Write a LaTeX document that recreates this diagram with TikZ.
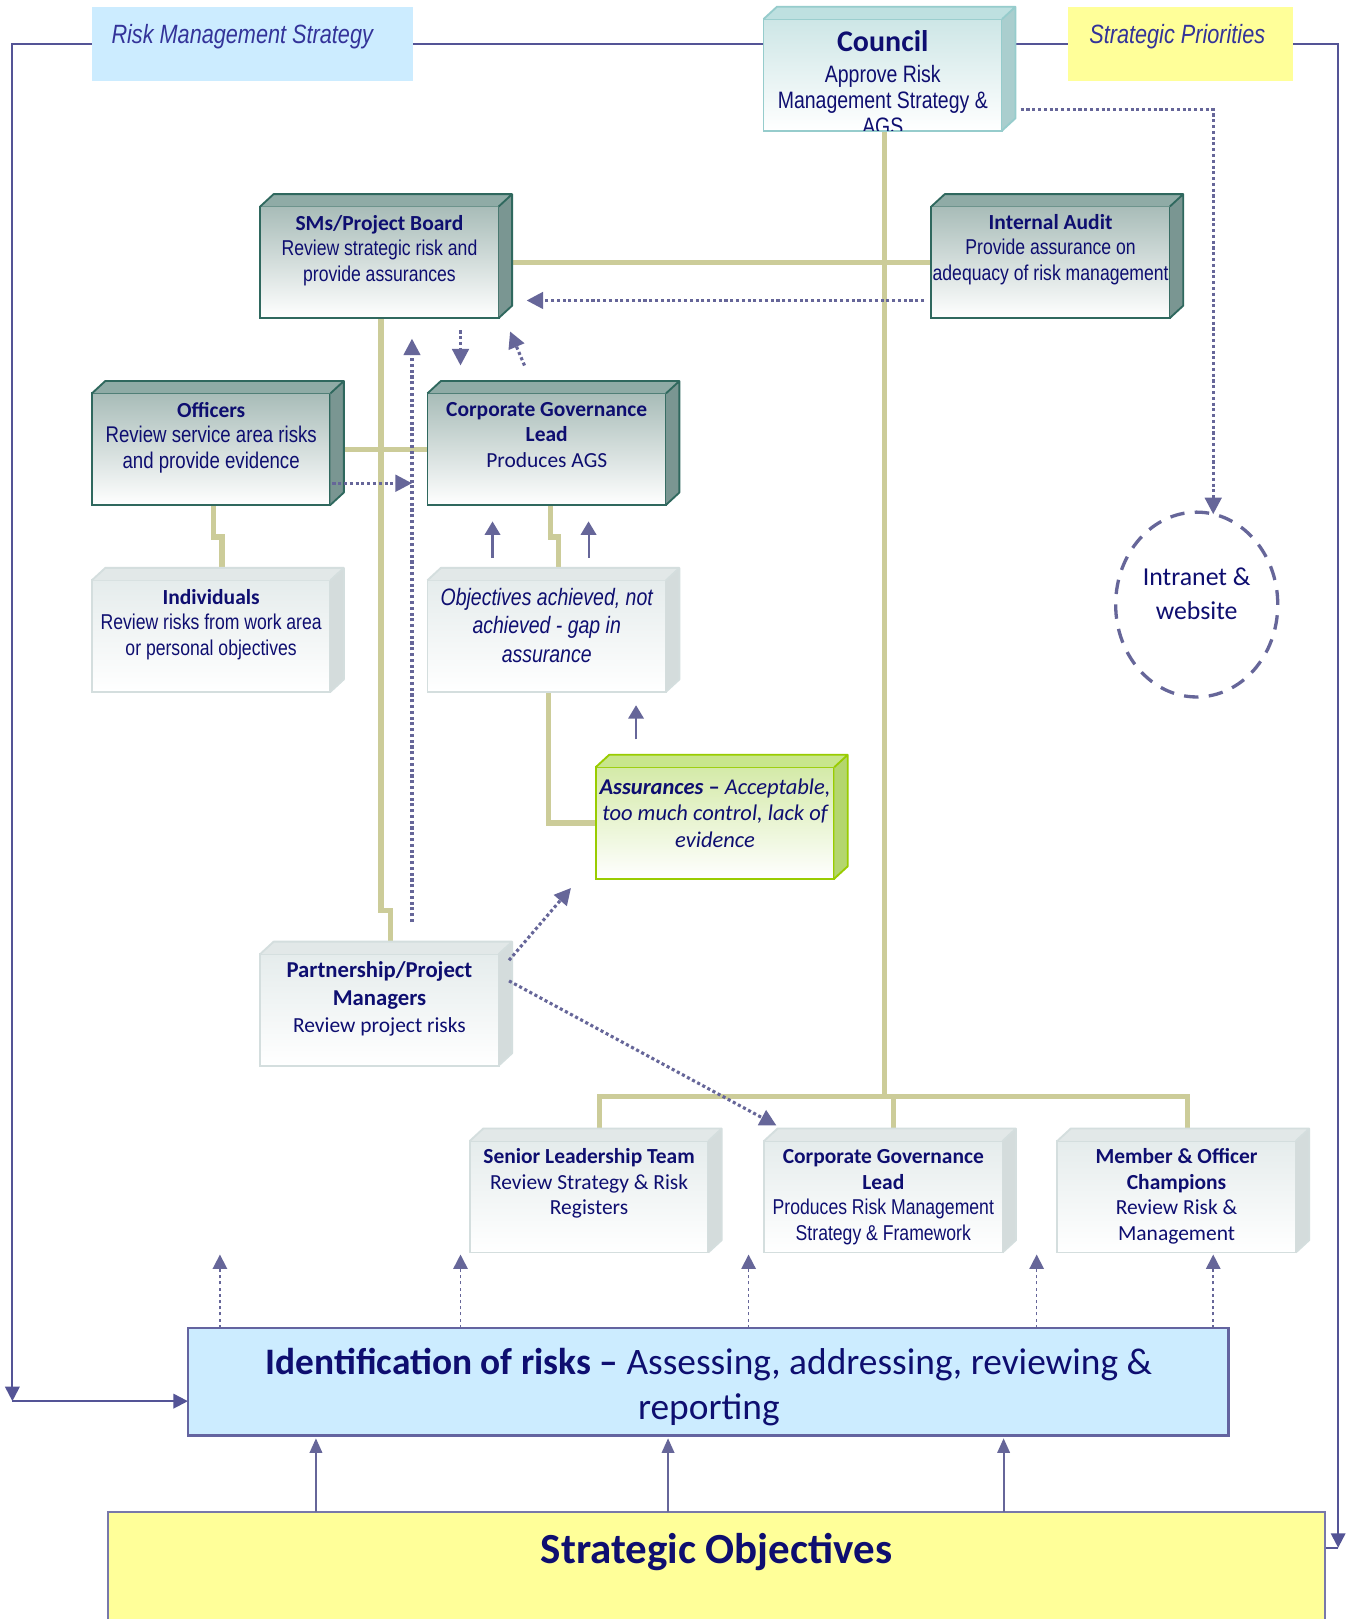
\documentclass[tikz,border=0pt]{standalone}
\usepackage{fontspec}
\setmainfont{Carlito}
\newfontfamily\narrowfont[FakeStretch=0.82]{Liberation Sans}
\usetikzlibrary{arrows.meta,calc,shapes.geometric}
\pgfdeclarelayer{bg}
\pgfsetlayers{bg,main}
\definecolor{navy}{RGB}{14,14,112}
\definecolor{lblue}{RGB}{51,51,153}
\definecolor{boxblue}{RGB}{204,236,255}
\definecolor{boxyellow}{RGB}{255,255,153}
\definecolor{framec}{RGB}{84,84,150}
\definecolor{arrowc}{RGB}{102,102,153}
\definecolor{khaki}{RGB}{204,204,153}
\definecolor{idrE}{RGB}{100,100,160}
\definecolor{soE}{RGB}{120,120,170}
\definecolor{dkF}{RGB}{168,188,184}
\definecolor{dkT}{RGB}{143,171,166}
\definecolor{dkS}{RGB}{122,150,146}
\definecolor{dkE}{RGB}{47,104,94}
\definecolor{ltF}{RGB}{229,236,236}
\definecolor{ltT}{RGB}{226,232,232}
\definecolor{ltS}{RGB}{212,220,220}
\definecolor{ltE}{RGB}{212,222,222}
\definecolor{tlF}{RGB}{205,230,230}
\definecolor{tlT}{RGB}{190,224,224}
\definecolor{tlS}{RGB}{170,206,206}
\definecolor{tlE}{RGB}{150,204,204}
\definecolor{grF}{RGB}{212,234,168}
\definecolor{grT}{RGB}{200,230,140}
\definecolor{grS}{RGB}{180,214,110}
\definecolor{grE}{RGB}{153,204,0}
\newcommand\mycube[3]{%
 \node[#1front] (#2) at (#3) {};
 \fill[#1top] (#2.north west) -- ++(13,-12) -- ($(#2.north east)+(13,-12)$) -- (#2.north east) -- cycle;
 \fill[#1side] (#2.north east) -- ++(13,-12) -- ($(#2.south east)+(13,-12)$) -- (#2.south east) -- cycle;
 \draw[#1edge] (#2.north west) -- ++(13,-12) -- ($(#2.north east)+(13,-12)$) -- ($(#2.south east)+(13,-12)$) -- (#2.south east) (#2.north east) -- ++(13,-12);
}
\newcommand\btext[4][12.4]{%
 \node[btxt] (#2T) at ($(#2.north)+(0,#3)$) {\parbox[t]{150pt}{\centering\fontsize{10.4}{#1}\selectfont #4}};}
\begin{document}
\begin{tikzpicture}[x=0.5pt,y=-0.5pt,
 every node/.style={inner sep=0pt,outer sep=0pt},
 faceF/.style={minimum width=115.5pt,minimum height=54pt,line width=0.9pt},
 dkfront/.style={faceF,draw=dkE,top color=dkF,bottom color=white},
 dktop/.style={fill=dkT}, dkside/.style={fill=dkS},
 dkedge/.style={draw=dkE,line width=0.9pt,line join=round},
 ltfront/.style={faceF,draw=ltE,top color=ltF,bottom color=white},
 lttop/.style={fill=ltT}, ltside/.style={fill=ltS},
 ltedge/.style={draw=ltE,line width=0.9pt,line join=round},
 tlfront/.style={faceF,draw=tlE,top color=tlF,bottom color=white},
 tltop/.style={fill=tlT}, tlside/.style={fill=tlS},
 tledge/.style={draw=tlE,line width=0.9pt,line join=round},
 grfront/.style={faceF,draw=grE,top color=grF,bottom color=white},
 grtop/.style={fill=grT}, grside/.style={fill=grS},
 gredge/.style={draw=grE,line width=0.9pt,line join=round},
 tie/.style={draw=khaki,line width=2.5pt},
 frame/.style={draw=framec,line width=1pt},
 frarrow/.style={frame,-{Triangle[length=7pt,width=7pt]}},
 dots/.style={draw=arrowc,line width=1.5pt,dash pattern=on 1.5pt off 1.3pt,-{Triangle[length=8pt,width=8pt]}},
 upar/.style={draw=arrowc,line width=1pt,-{Triangle[length=6.5pt,width=7.5pt]}},
 ups/.style={draw=arrowc,line width=0.8pt,dash pattern=on 1.5pt off 1.5pt,-{Triangle[length=7pt,width=7pt]}},
 bigup/.style={draw=arrowc,line width=1pt,-{Triangle[length=7pt,width=6pt]}},
 btxt/.style={anchor=base,text=navy},
 toplbl/.style={anchor=base west,text=lblue,font=\fontsize{12.8}{14}\selectfont\narrowfont\itshape},
]
\useasboundingbox (0,0) rectangle (1304,1568);
\begin{pgfonlayer}{bg}
\fill[white] (0,0) rectangle (1304,1568);
\end{pgfonlayer}

% flat boxes
\node[fill=boxblue,minimum width=155.5pt,minimum height=35.5pt] (rms) at (244.5,42.5) {};
\node[toplbl] (rmsT) at ($(rms.north west)+(19,35)$) {Risk Management Strategy};
\node[fill=boxyellow,minimum width=109pt,minimum height=35.5pt] (sp) at (1143,42.5) {};
\node[toplbl] (spT) at ($(sp.north west)+(21,35)$) {Strategic Priorities};
\node[fill=boxblue,draw=idrE,line width=1.3pt,minimum width=504pt,minimum height=52pt] (idr) at (686,1338) {};
\node[btxt] (idrT) at ($(idr.north)+(0.5,45.5)$) {\parbox[t]{560pt}{\centering\fontsize{18.1}{21.5}\selectfont\textbf{Identification of risks –} Assessing, addressing, reviewing \&\\reporting}};
\node[fill=boxyellow,draw=soE,line width=1pt,minimum width=589pt,minimum height=63pt] (so) at (694,1527) {};
\node[btxt] (soT) at ($(so.north)+(0,50)$) {\fontsize{20.8}{24}\selectfont\bfseries Strategic Objectives};
\node[ellipse,draw=arrowc,line width=1.6pt,dash pattern=on 7pt off 5pt,minimum width=78.5pt,minimum height=89.5pt] (intr) at (1159,585.5) {};
\node[btxt] (intrT) at ($(intr.center)+(0,-18)$) {\parbox[t]{80pt}{\centering\fontsize{12.5}{16}\selectfont Intranet \&\\website}};

% 3D boxes
\mycube{tl}{council}{855,72.5}
\begin{scope}
\clip (council.north west) rectangle (council.south east);
\node[btxt] (councilT) at ($(council.north)+(0,31)$) {\parbox[t]{150pt}{\centering{\fontsize{14.5}{16}\selectfont\bfseries Council\par}\vspace{2.5pt}\fontsize{11.5}{12.6}\selectfont\narrowfont Approve Risk\\Management Strategy \&\\AGS}};
\end{scope}
\mycube{dk}{sms}{367.5,254}
\btext{sms}{23}{\textbf{SMs/Project Board}\\\narrowfont Review strategic risk and\\provide assurances}
\mycube{dk}{ia}{1017.5,254}
\btext{ia}{22}{\textbf{Internal Audit}\\\narrowfont Provide assurance on\\adequacy of risk management}
\mycube{dk}{off}{204.5,435}
\btext[12.5]{off}{23}{\textbf{Officers}\\\fontsize{11}{12.5}\selectfont\narrowfont Review service area risks\\and provide evidence}
\mycube{dk}{cgl1}{529.5,435}
\btext{cgl1}{22}{\textbf{Corporate Governance}\\\textbf{Lead}\\Produces AGS}
\mycube{lt}{ind}{204.5,616}
\btext{ind}{23}{\textbf{Individuals}\\\narrowfont Review risks from work area\\or personal objectives}
\mycube{lt}{obj}{529.5,616}
\btext[13.8]{obj}{24}{\fontsize{11.5}{13.8}\selectfont\narrowfont\itshape Objectives achieved, not\\achieved - gap in\\assurance}
\mycube{gr}{asr}{692.5,797}
\btext[13]{asr}{26}{\fontsize{10.9}{13}\selectfont\itshape\textbf{Assurances} \textbf{\upshape –} Acceptable,\\too much control, lack of\\evidence}
\mycube{lt}{ppm}{367.5,978}
\btext[13.2]{ppm}{23}{\fontsize{11}{13.2}\selectfont\textbf{Partnership/Project}\\\textbf{Managers}\\\fontsize{10.4}{13.2}\selectfont Review project risks}
\mycube{lt}{slt}{570.5,1159}
\btext{slt}{22}{\textbf{Senior Leadership Team}\\Review Strategy \& Risk\\Registers}
\mycube{lt}{cgl2}{855.5,1159}
\btext{cgl2}{22}{\textbf{Corporate Governance}\\\textbf{Lead}\\\narrowfont Produces Risk Management\\Strategy \& Framework}
\mycube{lt}{moc}{1139.5,1159}
\btext{moc}{22}{\textbf{Member \& Officer}\\\textbf{Champions}\\Review Risk \&\\Management}

% background connectors
\begin{pgfonlayer}{bg}
\coordinate (fl) at (12,1357);
\coordinate (fr) at (1296,1499);
\draw[frarrow] (rms.west) -| (fl);
\draw[frarrow] (fl) -- (fl -| idr.west);
\draw[frarrow] (sp.east) -| (fr);
\draw[frame] (fr) -- (fr -| so.east);
\draw[frame] (rms.east) -- (rms.east -| council.west);
\draw[frame] (sp.west) -- (sp.west -| council.east);
\draw[tie] ($(council.south)+(2,0)$) -- ++(0,935);
\draw[tie] ($(slt.north)+(10.5,-12)$) |- ($(moc.north)+(10.5,-43)$) -- ($(moc.north)+(10.5,-12)$);
\draw[tie] ($(cgl2.north)+(9.5,-12)$) -- ($(cgl2.north)+(9.5,-43)$);
\draw[tie] (sms.east) -- (ia.west);
\draw[tie] (off.east) -- (cgl1.west);
\draw[tie] ($(sms.south)+(1.5,0)$) -- ++(0,574) -- ++(9,0) -- ($(ppm.north)+(10.5,-12)$);
\draw[tie] ($(off.south)+(2.5,0)$) -- ++(0,31) -- ++(8,0) -- ($(ind.north)+(10.5,-12)$);
\draw[tie] ($(cgl1.south)+(3.5,0)$) -- ++(0,31) -- ++(8,0) -- ($(obj.north)+(11.5,-12)$);
\draw[tie] ($(obj.south)+(1.5,0)$) |- (asr.west);
\end{pgfonlayer}

% arrows
\draw[dots] ($(ia.west)+(-7,37)$) -- ($(sms.east)+(27,37)$);
\draw[dots] ($(council.east)+(18,33.5)$) -| ($(intr.north)+(16,2)$);
\draw[dots] ($(sms.south)+(78.5,12)$) -- ($(cgl1.north)+(-83.5,-27)$);
\draw[dots] ($(cgl1.north)+(-21.5,-27)$) -- ($(sms.south)+(126.5,13)$);
\draw[dots] ($(ppm.north)+(31.5,-31)$) -- ($(sms.south)+(31.5,20)$);
\draw[dots] ($(off.east)+(2,33)$) -- ($(cgl1.west)+(-15,33)$);
\draw[dots] ($(ppm.east)+(10,-48)$) -- ($(asr.south west)+(-24,9)$);
\draw[dots] ($(ppm.east)+(10,-28)$) -- ($(cgl2.north west)+(12,-15)$);
\draw[upar] ($(obj.north)+(-52.5,-22)$) -- ++(0,-35);
\draw[upar] ($(obj.north)+(40.5,-22)$) -- ++(0,-35);
\draw[upar] ($(asr.north)+(-76.5,-27)$) -- ++(0,-33);
\foreach \d in {31,264,543,822,993}
  \draw[ups] ($(idr.north west)+(\d,0)$) -- ++(0,-71);
\foreach \d in {201,542,867}
  \draw[bigup] ($(so.north west)+(\d,0)$) -- ++(0,-71);
\end{tikzpicture}
\end{document}
